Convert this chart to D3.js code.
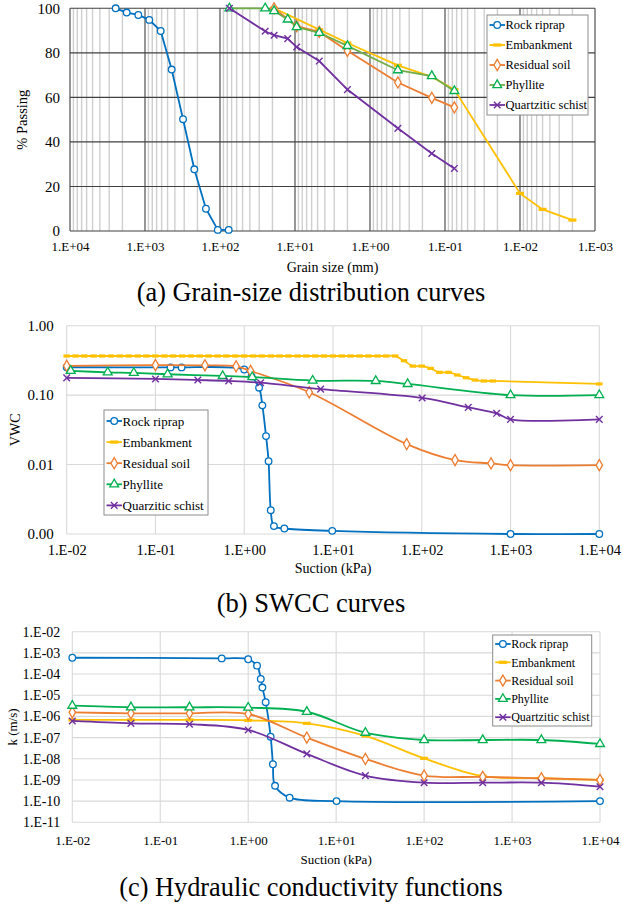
<!DOCTYPE html>
<html><head><meta charset="utf-8">
<script src="https://cdn.jsdelivr.net/npm/d3@7"></script>
<style>
body{margin:0;background:#fff}
svg{display:block}
text{font-family:"Liberation Serif","Times New Roman",serif;fill:#000}
</style>
</head><body>
<svg id="chart" width="622" height="905"></svg>
<script>
// ---------------- DATA ----------------
const seriesNames = ["Rock riprap","Embankment","Residual soil","Phyllite","Quartzitic schist"];
const seriesNamesSWCC = ["Rock riprap","Embankment","Residual soil","Phyllite","Quarzitic schist"];

// (a) Grain-size distribution: grain size (mm) and % passing
const gsdRiprapSize = [2460,1755,1228,877,618,441,311,220,154,107,76.6];
const gsdRiprapPass = [100,98.1,97,94.8,89.8,72.5,50.2,27.7,10,0.5,0.5];
const gsdEmbSize = [19,4.75,2,0.425,0.15,0.075,0.01,0.005,0.002];
const gsdEmbPass = [100,90.4,84.4,74.4,69.2,63.5,16.9,9.7,4.9];
const gsdResSize = [19,9.5,4.75,2,0.425,0.15,0.075];
const gsdResPass = [100,92,89.4,80.9,66.7,59.8,55.5];
const gsdPhySize = [75,25,19,12.5,9.5,4.75,2,0.425,0.15,0.075];
const gsdPhyPass = [100,100,98.8,95,91.6,89,83.1,72.2,69.6,62.9];
const gsdQsSize = [75,25,19,12.5,9.5,4.75,2,0.425,0.15,0.075];
const gsdQsPass = [100,89.7,87.9,86.4,82.6,76.3,63.5,46.1,34.8,28.1];
const gsdXTicks = [1e4,1e3,1e2,1e1,1,1e-1,1e-2,1e-3];
const gsdXTickLabels = ["1.E+04","1.E+03","1.E+02","1.E+01","1.E+00","1.E-01","1.E-02","1.E-03"];
const gsdYTicks = [0,20,40,60,80,100];
const gsdYTickLabels = ["0","20","40","60","80","100"];

// (b) SWCC: suction (kPa) and VWC
const swccRiprapSuction = [0.01,0.148,0.197,1.0,1.21,1.47,1.6,1.76,1.88,1.99,2.16,2.83,9.8,1000,10000];
const swccRiprapVwc = [0.252,0.251,0.251,0.234,0.186,0.128,0.0713,0.0257,0.0112,0.0022,0.0013,0.0012,0.00111,0.001,0.001];
const swccEmbSuction = [0.01,0.0126,0.0158,0.02,0.0251,0.0316,0.0398,0.0501,0.0631,0.0794,
  0.1,0.126,0.158,0.2,0.251,0.316,0.398,0.501,0.631,0.794,
  1,1.26,1.58,2,2.51,3.16,3.98,5.01,6.31,7.94,
  10,12.6,15.8,20,25.1,31.6,39.8,50.1,63.1,79.4,
  100,126,158,200,251,316,398,501,631,10000];
const swccEmbVwc = [0.366,0.366,0.366,0.366,0.366,0.366,0.366,0.366,0.366,0.366,
  0.366,0.366,0.366,0.366,0.366,0.366,0.366,0.366,0.366,0.366,
  0.366,0.366,0.366,0.366,0.366,0.366,0.366,0.366,0.366,0.366,
  0.366,0.366,0.366,0.366,0.366,0.366,0.366,0.366,0.313,0.262,
  0.262,0.243,0.213,0.213,0.195,0.178,0.165,0.16,0.16,0.145];
const swccResSuction = [0.01,0.1,0.361,0.81,1.18,5.4,67.6,237,603,1000,10000];
const swccResVwc = [0.264,0.271,0.269,0.26,0.223,0.11,0.0197,0.0116,0.0104,0.0098,0.0098];
const swccPhySuction = [0.0111,0.029,0.057,0.137,0.571,1.23,5.9,30.3,69.3,1000,10000];
const swccPhyVwc = [0.224,0.213,0.209,0.2,0.189,0.182,0.162,0.16,0.145,0.1,0.1];
const swccQsSuction = [0.01,0.1,0.3,0.668,1.53,7.26,101,334,698,1000,10000];
const swccQsVwc = [0.177,0.171,0.165,0.16,0.151,0.122,0.091,0.0667,0.0547,0.0448,0.0448];
const swccXTicks = [1e-2,1e-1,1,1e1,1e2,1e3,1e4];
const swccXTickLabels = ["1.E-02","1.E-01","1.E+00","1.E+01","1.E+02","1.E+03","1.E+04"];
const swccYTicks = [1,0.1,0.01,0.001];
const swccYTickLabels = ["1.00","0.10","0.01","0.00"];

// (c) Hydraulic conductivity: suction (kPa) and k (m/s)
const kRiprapSuction = [0.01,0.5,1.0,1.26,1.39,1.45,1.58,1.8,1.91,2.02,2.96,10.1,10000];
const kRiprapK = [5.9e-4,5.5e-4,5.0e-4,2.5e-4,5.9e-5,2.3e-5,4.7e-6,1.1e-7,5.5e-9,5.3e-10,1.45e-10,1.0e-10,1.0e-10];
const kSuction = [0.01,0.0464,0.215,1,4.64,21.5,100,464,2154,10000];
const kEmbK = [6.8e-7,6.8e-7,6.8e-7,6.5e-7,4.7e-7,1.2e-7,1.05e-8,1.5e-9,1.2e-9,1.0e-9];
const kResK = [1.56e-6,1.4e-6,1.4e-6,1.3e-6,1.0e-7,9.8e-9,1.6e-9,1.4e-9,1.2e-9,1.0e-9];
const kPhyK = [3.2e-6,2.7e-6,2.7e-6,2.6e-6,1.66e-6,1.7e-7,7.7e-8,7.7e-8,7.7e-8,5.0e-8];
const kQsK = [6.1e-7,4.7e-7,4.3e-7,2.3e-7,1.7e-8,1.6e-9,7.4e-10,7.4e-10,7.4e-10,4.8e-10];
const kXTicks = [1e-2,1e-1,1,1e1,1e2,1e3,1e4];
const kXTickLabels = ["1.E-02","1.E-01","1.E+00","1.E+01","1.E+02","1.E+03","1.E+04"];
const kYTicks = [1e-2,1e-3,1e-4,1e-5,1e-6,1e-7,1e-8,1e-9,1e-10,1e-11];
const kYTickLabels = ["1.E-02","1.E-03","1.E-04","1.E-05","1.E-06","1.E-07","1.E-08","1.E-09","1.E-10","1.E-11"];

// ---------------- STYLE ----------------
const colors = ["#0070C0","#FFC000","#ED7D31","#00B050","#7030A0"];
const gsdLineColors = ["#0070C0","#FFC000","#ED7D31","#70AD47","#7030A0"];
const markerTypes = ["circle","dash","diamond","triangle","x"];
const zip = (a,b)=>a.map((v,i)=>[v,b[i]]);

const svg = d3.select("#chart");

function drawMarkers(g, pts, type, color, xs, ys, dashW){
  const sel = g.append("g");
  const dw = dashW || 8;
  if(type==="circle"){
    sel.selectAll("circle").data(pts).join("circle")
      .attr("cx",d=>xs(d[0])).attr("cy",d=>ys(d[1])).attr("r",3.3)
      .attr("fill","#fff").attr("stroke",color).attr("stroke-width",1.3);
  } else if(type==="dash"){
    sel.selectAll("rect").data(pts).join("rect")
      .attr("x",d=>xs(d[0])-dw/2).attr("y",d=>ys(d[1])-1.6)
      .attr("width",dw).attr("height",3.2).attr("fill",color);
  } else if(type==="diamond" || type==="triangle"){
    const sym = d3.symbol(type==="diamond"?d3.symbolDiamond:d3.symbolTriangle, type==="diamond"?36:34)();
    sel.selectAll("path").data(pts).join("path")
      .attr("d",sym).attr("transform",d=>`translate(${xs(d[0])},${ys(d[1])})`)
      .attr("fill","#fff").attr("stroke",color).attr("stroke-width",1.3);
  } else if(type==="x"){
    const s=3.3;
    sel.selectAll("path").data(pts).join("path")
      .attr("d",`M${-s},${-s}L${s},${s}M${-s},${s}L${s},${-s}`)
      .attr("transform",d=>`translate(${xs(d[0])},${ys(d[1])})`)
      .attr("fill","none").attr("stroke",color).attr("stroke-width",1.4);
  }
}

function drawLegend(g, x0, y0, w, h, ys0, dy, names, lineCols, markerCols, fontSize){
  const lg = g.append("g");
  lg.append("rect").attr("x",x0).attr("y",y0).attr("width",w).attr("height",h)
    .attr("fill","#fff").attr("stroke","#8c8c8c").attr("stroke-width",1);
  names.forEach((n,i)=>{
    const y = ys0 + i*dy;
    lg.append("line").attr("x1",x0+2.5).attr("x2",x0+18).attr("y1",y).attr("y2",y)
      .attr("stroke",lineCols[i]).attr("stroke-width",1.8);
    drawMarkers(lg, [[x0+10.2,y]], markerTypes[i], markerCols[i], d=>d, d=>d);
    lg.append("text").attr("x",x0+18.5).attr("y",y).attr("dy","0.35em")
      .attr("font-size",fontSize).text(n);
  });
}

function styleAxis(g, fs){
  g.select(".domain").remove();
  g.selectAll(".tick line").remove();
  g.selectAll("text").attr("font-size",fs).attr("font-family","Liberation Serif").attr("fill","#000");
}

// ================= PANEL (a) =================
(function(){
  const L=70,R=595,T=8.3,B=231;
  const xs = d3.scaleLog().domain([1e4,1e-3]).range([L,R]);
  const ys = d3.scaleLinear().domain([0,100]).range([B,T]);
  const g = svg.append("g");
  const minor=[];
  for(let e=-3;e<4;e++) for(let k=2;k<10;k++) minor.push(k*Math.pow(10,e));
  g.append("g").selectAll("line").data(minor).join("line")
    .attr("x1",d=>xs(d)).attr("x2",d=>xs(d)).attr("y1",T).attr("y2",B)
    .attr("stroke","#cfcfcf").attr("stroke-width",1.4);
  g.append("g").selectAll("line").data(gsdXTicks).join("line")
    .attr("x1",d=>xs(d)).attr("x2",d=>xs(d)).attr("y1",T).attr("y2",B)
    .attr("stroke","#404040").attr("stroke-width",1.1);
  g.append("g").selectAll("line").data(gsdYTicks).join("line")
    .attr("x1",L).attr("x2",R).attr("y1",d=>ys(d)).attr("y2",d=>ys(d))
    .attr("stroke","#404040").attr("stroke-width",1.1);
  const ax = g.append("g").attr("transform",`translate(0,${B})`)
    .call(d3.axisBottom(xs).tickValues(gsdXTicks).tickFormat((d,i)=>gsdXTickLabels[i]).tickSize(0).tickPadding(11));
  styleAxis(ax,13);
  const ay = g.append("g").attr("transform",`translate(${L},0)`)
    .call(d3.axisLeft(ys).tickValues(gsdYTicks).tickFormat((d,i)=>gsdYTickLabels[i]).tickSize(0).tickPadding(10));
  styleAxis(ay,15);
  g.append("text").attr("x",(L+R)/2).attr("y",267).attr("dy","0.35em").attr("text-anchor","middle")
    .attr("font-size",14).text("Grain size (mm)");
  g.append("text").attr("transform",`translate(22,${(T+B)/2}) rotate(-90)`).attr("dy","0.35em")
    .attr("text-anchor","middle").attr("font-size",14.5).text("% Passing");
  const series = [zip(gsdRiprapSize,gsdRiprapPass),zip(gsdEmbSize,gsdEmbPass),zip(gsdResSize,gsdResPass),
                  zip(gsdPhySize,gsdPhyPass),zip(gsdQsSize,gsdQsPass)];
  const line = d3.line().x(d=>xs(d[0])).y(d=>ys(d[1]));
  series.forEach((s,i)=>{
    g.append("path").attr("d",line(s)).attr("fill","none").attr("stroke",gsdLineColors[i]).attr("stroke-width",1.8);
    drawMarkers(g,s,markerTypes[i],colors[i],xs,ys);
  });
  drawLegend(g,487,15,101,100,25,20,seriesNames,gsdLineColors,colors,12.5);
  svg.append("text").attr("x",311).attr("y",292).attr("dy","0.35em").attr("text-anchor","middle")
    .attr("font-size",26.3).text("(a) Grain-size distribution curves");
})();

// ================= PANEL (b) =================
(function(){
  const L=66.7,R=599.3,T=325.7,B=534;
  const xs = d3.scaleLog().domain([1e-2,1e4]).range([L,R]);
  const ys = d3.scaleLog().domain([0.001,1]).range([B,T]);
  const g = svg.append("g");
  g.append("g").selectAll("line").data(swccXTicks).join("line")
    .attr("x1",d=>xs(d)).attr("x2",d=>xs(d)).attr("y1",T).attr("y2",B)
    .attr("stroke","#d9d9d9").attr("stroke-width",1.1);
  g.append("g").selectAll("line").data(swccYTicks).join("line")
    .attr("x1",L).attr("x2",R).attr("y1",d=>ys(d)).attr("y2",d=>ys(d))
    .attr("stroke","#d9d9d9").attr("stroke-width",1.1);
  const ax = g.append("g").attr("transform",`translate(0,${B})`)
    .call(d3.axisBottom(xs).tickValues(swccXTicks).tickFormat((d,i)=>swccXTickLabels[i]).tickSize(0).tickPadding(11));
  styleAxis(ax,14.5);
  const ay = g.append("g").attr("transform",`translate(${L},0)`)
    .call(d3.axisLeft(ys).tickValues(swccYTicks).tickFormat((d,i)=>swccYTickLabels[i]).tickSize(0).tickPadding(13));
  styleAxis(ay,15);
  g.append("text").attr("x",(L+R)/2).attr("y",568).attr("dy","0.35em").attr("text-anchor","middle")
    .attr("font-size",14).text("Suction (kPa)");
  g.append("text").attr("transform",`translate(15,${(T+B)/2}) rotate(-90)`).attr("dy","0.35em")
    .attr("text-anchor","middle").attr("font-size",14).text("VWC");
  const series = [zip(swccRiprapSuction,swccRiprapVwc),zip(swccEmbSuction,swccEmbVwc),zip(swccResSuction,swccResVwc),
                  zip(swccPhySuction,swccPhyVwc),zip(swccQsSuction,swccQsVwc)];
  const line = d3.line().x(d=>xs(d[0])).y(d=>ys(d[1])).curve(d3.curveCatmullRom.alpha(0.5));
  series.forEach((s,i)=>{
    g.append("path").attr("d",line(s)).attr("fill","none").attr("stroke",colors[i]).attr("stroke-width",1.8);
    drawMarkers(g,s,markerTypes[i],colors[i],xs,ys,6.5);
  });
  drawLegend(g,104,410,104,105,421,21.1,seriesNamesSWCC,colors,colors,13);
  svg.append("text").attr("x",311).attr("y",603).attr("dy","0.35em").attr("text-anchor","middle")
    .attr("font-size",26.5).text("(b) SWCC curves");
})();

// ================= PANEL (c) =================
(function(){
  const L=72.3,R=600,T=631.7,B=822.3;
  const xs = d3.scaleLog().domain([1e-2,1e4]).range([L,R]);
  const ys = d3.scaleLog().domain([1e-11,1e-2]).range([B,T]);
  const g = svg.append("g");
  g.append("g").selectAll("line").data(kXTicks).join("line")
    .attr("x1",d=>xs(d)).attr("x2",d=>xs(d)).attr("y1",T).attr("y2",B)
    .attr("stroke","#d9d9d9").attr("stroke-width",1.1);
  g.append("g").selectAll("line").data(kYTicks).join("line")
    .attr("x1",L).attr("x2",R).attr("y1",d=>ys(d)).attr("y2",d=>ys(d))
    .attr("stroke","#d9d9d9").attr("stroke-width",1.1);
  const ax = g.append("g").attr("transform",`translate(0,${B})`)
    .call(d3.axisBottom(xs).tickValues(kXTicks).tickFormat((d,i)=>kXTickLabels[i]).tickSize(0).tickPadding(13));
  styleAxis(ax,13);
  const ay = g.append("g").attr("transform",`translate(${L},0)`)
    .call(d3.axisLeft(ys).tickValues(kYTicks).tickFormat((d,i)=>kYTickLabels[i]).tickSize(0).tickPadding(12));
  styleAxis(ay,14);
  g.append("text").attr("x",(L+R)/2).attr("y",859).attr("dy","0.35em").attr("text-anchor","middle")
    .attr("font-size",13).text("Suction (kPa)");
  g.append("text").attr("transform",`translate(12,${(T+B)/2}) rotate(-90)`).attr("dy","0.35em")
    .attr("text-anchor","middle").attr("font-size",13).text("k (m/s)");
  const series = [zip(kRiprapSuction,kRiprapK),zip(kSuction,kEmbK),zip(kSuction,kResK),
                  zip(kSuction,kPhyK),zip(kSuction,kQsK)];
  const line = d3.line().x(d=>xs(d[0])).y(d=>ys(d[1])).curve(d3.curveCatmullRom.alpha(0.5));
  series.forEach((s,i)=>{
    g.append("path").attr("d",line(s)).attr("fill","none").attr("stroke",colors[i]).attr("stroke-width",1.8);
    drawMarkers(g,s,markerTypes[i],colors[i],xs,ys);
  });
  drawLegend(g,492.7,635,99,91,644,18.3,seriesNames,colors,colors,12);
  svg.append("text").attr("x",311).attr("y",887).attr("dy","0.35em").attr("text-anchor","middle")
    .attr("font-size",26.3).text("(c) Hydraulic conductivity functions");
})();
</script>
</body></html>
